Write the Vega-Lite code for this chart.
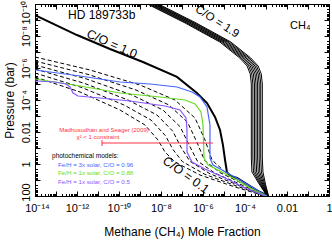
{
"$schema": "https://vega.github.io/schema/vega-lite/v6.json",
"width": 294, "height": 192,
"autosize": {"type": "none"},
"padding": {"left": 35, "top": 4, "right": 3, "bottom": 46},
"background": "white",
"config": {
 "view": {"stroke": "black", "strokeWidth": 1},
 "font": "Liberation Sans",
 "axis": {"labelFont": "Liberation Sans", "titleFont": "Liberation Sans", "labelColor": "black", "titleColor": "black", "tickColor": "black", "domainColor": "black", "tickWidth": 1, "grid": false, "titleFontWeight": "normal", "labelFlush": false, "labelOverlap": false}
},
"datasets": {
 "curves": [
  {"g":"C/O = 1.9","s":"b0","i":1,"x":2.24e-9,"p":1e-10},{"g":"C/O = 1.9","s":"b0","i":2,"x":1.41e-7,"p":1.54e-9},{"g":"C/O = 1.9","s":"b0","i":3,"x":6.31e-6,"p":2.37e-8},{"g":"C/O = 1.9","s":"b0","i":4,"x":5.62e-5,"p":2.37e-7},{"g":"C/O = 1.9","s":"b0","i":5,"x":1.26e-4,"p":7.5e-7},{"g":"C/O = 1.9","s":"b0","i":6,"x":1.78e-4,"p":2.37e-6},{"g":"C/O = 1.9","s":"b0","i":7,"x":2.0e-4,"p":1e-5},{"g":"C/O = 1.9","s":"b0","i":8,"x":2.0e-4,"p":0.422},{"g":"C/O = 1.9","s":"b0","i":9,"x":2.14e-4,"p":3.16},{"g":"C/O = 1.9","s":"b0","i":10,"x":4.73e-4,"p":17.8},{"g":"C/O = 1.9","s":"b0","i":11,"x":1.12e-3,"p":100},
  {"g":"C/O = 1.9","s":"b1","i":1,"x":2.66e-9,"p":1e-10},{"g":"C/O = 1.9","s":"b1","i":2,"x":1.68e-7,"p":1.54e-9},{"g":"C/O = 1.9","s":"b1","i":3,"x":7.5e-6,"p":2.37e-8},{"g":"C/O = 1.9","s":"b1","i":4,"x":6.68e-5,"p":2.37e-7},{"g":"C/O = 1.9","s":"b1","i":5,"x":1.5e-4,"p":7.5e-7},{"g":"C/O = 1.9","s":"b1","i":6,"x":2.11e-4,"p":2.37e-6},{"g":"C/O = 1.9","s":"b1","i":7,"x":2.37e-4,"p":1e-5},{"g":"C/O = 1.9","s":"b1","i":8,"x":2.37e-4,"p":0.422},{"g":"C/O = 1.9","s":"b1","i":9,"x":2.54e-4,"p":3.16},{"g":"C/O = 1.9","s":"b1","i":10,"x":5.22e-4,"p":17.8},{"g":"C/O = 1.9","s":"b1","i":11,"x":1.15e-3,"p":100},
  {"g":"C/O = 1.9","s":"b2","i":1,"x":3.16e-9,"p":1e-10},{"g":"C/O = 1.9","s":"b2","i":2,"x":2.0e-7,"p":1.54e-9},{"g":"C/O = 1.9","s":"b2","i":3,"x":8.91e-6,"p":2.37e-8},{"g":"C/O = 1.9","s":"b2","i":4,"x":7.94e-5,"p":2.37e-7},{"g":"C/O = 1.9","s":"b2","i":5,"x":1.78e-4,"p":7.5e-7},{"g":"C/O = 1.9","s":"b2","i":6,"x":2.51e-4,"p":2.37e-6},{"g":"C/O = 1.9","s":"b2","i":7,"x":2.82e-4,"p":1e-5},{"g":"C/O = 1.9","s":"b2","i":8,"x":2.82e-4,"p":0.422},{"g":"C/O = 1.9","s":"b2","i":9,"x":3.02e-4,"p":3.16},{"g":"C/O = 1.9","s":"b2","i":10,"x":5.75e-4,"p":17.8},{"g":"C/O = 1.9","s":"b2","i":11,"x":1.17e-3,"p":100},
  {"g":"C/O = 1.9","s":"b3","i":1,"x":3.76e-9,"p":1e-10},{"g":"C/O = 1.9","s":"b3","i":2,"x":2.37e-7,"p":1.54e-9},{"g":"C/O = 1.9","s":"b3","i":3,"x":1.06e-5,"p":2.37e-8},{"g":"C/O = 1.9","s":"b3","i":4,"x":9.44e-5,"p":2.37e-7},{"g":"C/O = 1.9","s":"b3","i":5,"x":2.11e-4,"p":7.5e-7},{"g":"C/O = 1.9","s":"b3","i":6,"x":2.99e-4,"p":2.37e-6},{"g":"C/O = 1.9","s":"b3","i":7,"x":3.35e-4,"p":1e-5},{"g":"C/O = 1.9","s":"b3","i":8,"x":3.35e-4,"p":0.422},{"g":"C/O = 1.9","s":"b3","i":9,"x":3.59e-4,"p":3.16},{"g":"C/O = 1.9","s":"b3","i":10,"x":6.35e-4,"p":17.8},{"g":"C/O = 1.9","s":"b3","i":11,"x":1.2e-3,"p":100},
  {"g":"C/O = 1.9","s":"b4","i":1,"x":4.47e-9,"p":1e-10},{"g":"C/O = 1.9","s":"b4","i":2,"x":2.82e-7,"p":1.54e-9},{"g":"C/O = 1.9","s":"b4","i":3,"x":1.26e-5,"p":2.37e-8},{"g":"C/O = 1.9","s":"b4","i":4,"x":1.12e-4,"p":2.37e-7},{"g":"C/O = 1.9","s":"b4","i":5,"x":2.51e-4,"p":7.5e-7},{"g":"C/O = 1.9","s":"b4","i":6,"x":3.55e-4,"p":2.37e-6},{"g":"C/O = 1.9","s":"b4","i":7,"x":3.98e-4,"p":1e-5},{"g":"C/O = 1.9","s":"b4","i":8,"x":3.98e-4,"p":0.422},{"g":"C/O = 1.9","s":"b4","i":9,"x":4.27e-4,"p":3.16},{"g":"C/O = 1.9","s":"b4","i":10,"x":7.0e-4,"p":17.8},{"g":"C/O = 1.9","s":"b4","i":11,"x":1.23e-3,"p":100},
  {"g":"C/O = 1.9","s":"b5","i":1,"x":5.31e-9,"p":1e-10},{"g":"C/O = 1.9","s":"b5","i":2,"x":3.35e-7,"p":1.54e-9},{"g":"C/O = 1.9","s":"b5","i":3,"x":1.5e-5,"p":2.37e-8},{"g":"C/O = 1.9","s":"b5","i":4,"x":1.33e-4,"p":2.37e-7},{"g":"C/O = 1.9","s":"b5","i":5,"x":2.99e-4,"p":7.5e-7},{"g":"C/O = 1.9","s":"b5","i":6,"x":4.22e-4,"p":2.37e-6},{"g":"C/O = 1.9","s":"b5","i":7,"x":4.73e-4,"p":1e-5},{"g":"C/O = 1.9","s":"b5","i":8,"x":4.73e-4,"p":0.422},{"g":"C/O = 1.9","s":"b5","i":9,"x":5.07e-4,"p":3.16},{"g":"C/O = 1.9","s":"b5","i":10,"x":7.72e-4,"p":17.8},{"g":"C/O = 1.9","s":"b5","i":11,"x":1.26e-3,"p":100},
  {"g":"C/O = 1.9","s":"b6","i":1,"x":6.31e-9,"p":1e-10},{"g":"C/O = 1.9","s":"b6","i":2,"x":3.98e-7,"p":1.54e-9},{"g":"C/O = 1.9","s":"b6","i":3,"x":1.78e-5,"p":2.37e-8},{"g":"C/O = 1.9","s":"b6","i":4,"x":1.58e-4,"p":2.37e-7},{"g":"C/O = 1.9","s":"b6","i":5,"x":3.55e-4,"p":7.5e-7},{"g":"C/O = 1.9","s":"b6","i":6,"x":5.01e-4,"p":2.37e-6},{"g":"C/O = 1.9","s":"b6","i":7,"x":5.62e-4,"p":1e-5},{"g":"C/O = 1.9","s":"b6","i":8,"x":5.62e-4,"p":0.422},{"g":"C/O = 1.9","s":"b6","i":9,"x":6.03e-4,"p":3.16},{"g":"C/O = 1.9","s":"b6","i":10,"x":8.51e-4,"p":17.8},{"g":"C/O = 1.9","s":"b6","i":11,"x":1.29e-3,"p":100},
  {"g":"C/O = 1.9","s":"b7","i":1,"x":7.5e-9,"p":1e-10},{"g":"C/O = 1.9","s":"b7","i":2,"x":4.73e-7,"p":1.54e-9},{"g":"C/O = 1.9","s":"b7","i":3,"x":2.11e-5,"p":2.37e-8},{"g":"C/O = 1.9","s":"b7","i":4,"x":1.88e-4,"p":2.37e-7},{"g":"C/O = 1.9","s":"b7","i":5,"x":4.22e-4,"p":7.5e-7},{"g":"C/O = 1.9","s":"b7","i":6,"x":5.96e-4,"p":2.37e-6},{"g":"C/O = 1.9","s":"b7","i":7,"x":6.68e-4,"p":1e-5},{"g":"C/O = 1.9","s":"b7","i":8,"x":6.68e-4,"p":0.422},{"g":"C/O = 1.9","s":"b7","i":9,"x":7.16e-4,"p":3.16},{"g":"C/O = 1.9","s":"b7","i":10,"x":9.39e-4,"p":17.8},{"g":"C/O = 1.9","s":"b7","i":11,"x":1.32e-3,"p":100},

  {"g":"C/O = 0.1","s":"d0","i":1,"x":1e-14,"p":2.05e-7},{"g":"C/O = 0.1","s":"d0","i":2,"x":4.16e-12,"p":1.33e-6},{"g":"C/O = 0.1","s":"d0","i":3,"x":1e-9,"p":1.155e-5},{"g":"C/O = 0.1","s":"d0","i":4,"x":4.64e-8,"p":1e-4},{"g":"C/O = 0.1","s":"d0","i":5,"x":4.16e-7,"p":1.33e-3},{"g":"C/O = 0.1","s":"d0","i":6,"x":1.245e-6,"p":3.16e-2},{"g":"C/O = 0.1","s":"d0","i":7,"x":2.69e-6,"p":0.562},{"g":"C/O = 0.1","s":"d0","i":8,"x":1.12e-5,"p":3.16},{"g":"C/O = 0.1","s":"d0","i":9,"x":1e-4,"p":15.4},{"g":"C/O = 0.1","s":"d0","i":10,"x":1e-3,"p":100},
  {"g":"C/O = 0.1","s":"d1","i":1,"x":1e-14,"p":3.65e-7},{"g":"C/O = 0.1","s":"d1","i":2,"x":3.34e-12,"p":2.51e-6},{"g":"C/O = 0.1","s":"d1","i":3,"x":6.46e-10,"p":2.37e-5},{"g":"C/O = 0.1","s":"d1","i":4,"x":2.4e-8,"p":2.05e-4},{"g":"C/O = 0.1","s":"d1","i":5,"x":1.85e-7,"p":2.51e-3},{"g":"C/O = 0.1","s":"d1","i":6,"x":5.18e-7,"p":4.47e-2},{"g":"C/O = 0.1","s":"d1","i":7,"x":1.19e-6,"p":0.596},{"g":"C/O = 0.1","s":"d1","i":8,"x":6.46e-6,"p":3.45},{"g":"C/O = 0.1","s":"d1","i":9,"x":8.03e-5,"p":17.3},{"g":"C/O = 0.1","s":"d1","i":10,"x":9.8e-4,"p":100},
  {"g":"C/O = 0.1","s":"d2","i":1,"x":1e-14,"p":6.49e-7},{"g":"C/O = 0.1","s":"d2","i":2,"x":2.69e-12,"p":4.73e-6},{"g":"C/O = 0.1","s":"d2","i":3,"x":4.16e-10,"p":4.87e-5},{"g":"C/O = 0.1","s":"d2","i":4,"x":1.245e-8,"p":4.22e-4},{"g":"C/O = 0.1","s":"d2","i":5,"x":8.2e-8,"p":4.73e-3},{"g":"C/O = 0.1","s":"d2","i":6,"x":2.15e-7,"p":6.31e-2},{"g":"C/O = 0.1","s":"d2","i":7,"x":5.3e-7,"p":0.631},{"g":"C/O = 0.1","s":"d2","i":8,"x":3.73e-6,"p":3.76},{"g":"C/O = 0.1","s":"d2","i":9,"x":6.46e-5,"p":19.4},{"g":"C/O = 0.1","s":"d2","i":10,"x":9.6e-4,"p":100},
  {"g":"C/O = 0.1","s":"d3","i":1,"x":1e-14,"p":1.155e-6},{"g":"C/O = 0.1","s":"d3","i":2,"x":2.15e-12,"p":8.91e-6},{"g":"C/O = 0.1","s":"d3","i":3,"x":2.69e-10,"p":1e-4},{"g":"C/O = 0.1","s":"d3","i":4,"x":6.46e-9,"p":8.66e-4},{"g":"C/O = 0.1","s":"d3","i":5,"x":3.65e-8,"p":8.91e-3},{"g":"C/O = 0.1","s":"d3","i":6,"x":8.95e-8,"p":8.91e-2},{"g":"C/O = 0.1","s":"d3","i":7,"x":2.35e-7,"p":0.668},{"g":"C/O = 0.1","s":"d3","i":8,"x":2.15e-6,"p":4.1},{"g":"C/O = 0.1","s":"d3","i":9,"x":5.18e-5,"p":21.8},{"g":"C/O = 0.1","s":"d3","i":10,"x":9.4e-4,"p":100},
  {"g":"C/O = 0.1","s":"d4","i":1,"x":1e-14,"p":2.05e-6},{"g":"C/O = 0.1","s":"d4","i":2,"x":1.73e-12,"p":1.68e-5},{"g":"C/O = 0.1","s":"d4","i":3,"x":1.73e-10,"p":2.05e-4},{"g":"C/O = 0.1","s":"d4","i":4,"x":3.34e-9,"p":1.78e-3},{"g":"C/O = 0.1","s":"d4","i":5,"x":1.62e-8,"p":1.68e-2},{"g":"C/O = 0.1","s":"d4","i":6,"x":3.73e-8,"p":0.126},{"g":"C/O = 0.1","s":"d4","i":7,"x":1.045e-7,"p":0.708},{"g":"C/O = 0.1","s":"d4","i":8,"x":1.245e-6,"p":4.47},{"g":"C/O = 0.1","s":"d4","i":9,"x":4.16e-5,"p":24.4},{"g":"C/O = 0.1","s":"d4","i":10,"x":9.2e-4,"p":100},
  {"g":"C/O = 0.1","s":"d5","i":1,"x":1e-14,"p":3.65e-6},{"g":"C/O = 0.1","s":"d5","i":2,"x":1.39e-12,"p":3.16e-5},{"g":"C/O = 0.1","s":"d5","i":3,"x":1.12e-10,"p":4.22e-4},{"g":"C/O = 0.1","s":"d5","i":4,"x":1.73e-9,"p":3.65e-3},{"g":"C/O = 0.1","s":"d5","i":5,"x":7.19e-9,"p":3.16e-2},{"g":"C/O = 0.1","s":"d5","i":6,"x":1.55e-8,"p":0.178},{"g":"C/O = 0.1","s":"d5","i":7,"x":4.64e-8,"p":0.75},{"g":"C/O = 0.1","s":"d5","i":8,"x":7.19e-7,"p":4.87},{"g":"C/O = 0.1","s":"d5","i":9,"x":3.34e-5,"p":27.4},{"g":"C/O = 0.1","s":"d5","i":10,"x":9.0e-4,"p":100},

  {"g":"C/O = 1.0","s":"t","i":1,"x":1e-14,"p":4.9e-10},{"g":"C/O = 1.0","s":"t","i":2,"x":1e-12,"p":8.7e-9},{"g":"C/O = 1.0","s":"t","i":3,"x":3.72e-11,"p":6.46e-8},{"g":"C/O = 1.0","s":"t","i":4,"x":1.38e-9,"p":4.2e-7},{"g":"C/O = 1.0","s":"t","i":5,"x":5.75e-8,"p":3.63e-6},{"g":"C/O = 1.0","s":"t","i":6,"x":5.13e-7,"p":3.63e-5},{"g":"C/O = 1.0","s":"t","i":7,"x":1.55e-6,"p":1.55e-4},{"g":"C/O = 1.0","s":"t","i":8,"x":3.72e-6,"p":1.15e-3},{"g":"C/O = 1.0","s":"t","i":9,"x":6.46e-6,"p":7.5e-3},{"g":"C/O = 1.0","s":"t","i":10,"x":8.9e-6,"p":0.0646},{"g":"C/O = 1.0","s":"t","i":11,"x":1.12e-5,"p":0.562},{"g":"C/O = 1.0","s":"t","i":12,"x":1.38e-5,"p":3.16},{"g":"C/O = 1.0","s":"t","i":13,"x":1.95e-5,"p":5.62},{"g":"C/O = 1.0","s":"t","i":14,"x":4.17e-5,"p":7.5},{"g":"C/O = 1.0","s":"t","i":15,"x":1.74e-4,"p":23.7},{"g":"C/O = 1.0","s":"t","i":16,"x":5.13e-4,"p":56.2},{"g":"C/O = 1.0","s":"t","i":17,"x":1.26e-3,"p":100},

  {"g":"Fe/H = 3x solar, C/O = 0.96","s":"m1","i":1,"x":1e-14,"p":1.33e-6},{"g":"Fe/H = 3x solar, C/O = 0.96","s":"m1","i":2,"x":1.39e-12,"p":3.16e-6},{"g":"Fe/H = 3x solar, C/O = 0.96","s":"m1","i":3,"x":1.12e-10,"p":7.5e-6},{"g":"Fe/H = 3x solar, C/O = 0.96","s":"m1","i":4,"x":2.99e-9,"p":1e-5},{"g":"Fe/H = 3x solar, C/O = 0.96","s":"m1","i":5,"x":5.78e-8,"p":1.54e-5},{"g":"Fe/H = 3x solar, C/O = 0.96","s":"m1","i":6,"x":2.99e-7,"p":3.16e-5},{"g":"Fe/H = 3x solar, C/O = 0.96","s":"m1","i":7,"x":7.19e-7,"p":6.49e-5},{"g":"Fe/H = 3x solar, C/O = 0.96","s":"m1","i":8,"x":1.55e-6,"p":2.74e-4},{"g":"Fe/H = 3x solar, C/O = 0.96","s":"m1","i":9,"x":2.15e-6,"p":3.65e-3},{"g":"Fe/H = 3x solar, C/O = 0.96","s":"m1","i":10,"x":2.15e-6,"p":0.422},{"g":"Fe/H = 3x solar, C/O = 0.96","s":"m1","i":11,"x":2.99e-6,"p":1.155},{"g":"Fe/H = 3x solar, C/O = 0.96","s":"m1","i":12,"x":8.03e-6,"p":2.37},{"g":"Fe/H = 3x solar, C/O = 0.96","s":"m1","i":13,"x":5.78e-5,"p":10},{"g":"Fe/H = 3x solar, C/O = 0.96","s":"m1","i":14,"x":2.99e-4,"p":36.5},{"g":"Fe/H = 3x solar, C/O = 0.96","s":"m1","i":15,"x":1.12e-3,"p":100},

  {"g":"Fe/H = 1x solar, C/O = 0.88","s":"m2","i":1,"x":1e-14,"p":4.87e-6},{"g":"Fe/H = 1x solar, C/O = 0.88","s":"m2","i":2,"x":1.39e-12,"p":1.33e-5},{"g":"Fe/H = 1x solar, C/O = 0.88","s":"m2","i":3,"x":1.12e-10,"p":3.65e-5},{"g":"Fe/H = 1x solar, C/O = 0.88","s":"m2","i":4,"x":8.95e-9,"p":6.49e-5},{"g":"Fe/H = 1x solar, C/O = 0.88","s":"m2","i":5,"x":1.39e-7,"p":1e-4},{"g":"Fe/H = 1x solar, C/O = 0.88","s":"m2","i":6,"x":4.16e-7,"p":1.78e-4},{"g":"Fe/H = 1x solar, C/O = 0.88","s":"m2","i":7,"x":8.03e-7,"p":5.62e-4},{"g":"Fe/H = 1x solar, C/O = 0.88","s":"m2","i":8,"x":1e-6,"p":3.65e-3},{"g":"Fe/H = 1x solar, C/O = 0.88","s":"m2","i":9,"x":1.12e-6,"p":0.422},{"g":"Fe/H = 1x solar, C/O = 0.88","s":"m2","i":10,"x":1.73e-6,"p":1.155},{"g":"Fe/H = 1x solar, C/O = 0.88","s":"m2","i":11,"x":5.18e-6,"p":2.37},{"g":"Fe/H = 1x solar, C/O = 0.88","s":"m2","i":12,"x":3.34e-5,"p":8.66},{"g":"Fe/H = 1x solar, C/O = 0.88","s":"m2","i":13,"x":1.73e-4,"p":31.6},{"g":"Fe/H = 1x solar, C/O = 0.88","s":"m2","i":14,"x":1e-3,"p":100},

  {"g":"Fe/H = 1x solar, C/O = 0.5","s":"m3","i":1,"x":1e-14,"p":6.49e-6},{"g":"Fe/H = 1x solar, C/O = 0.5","s":"m3","i":2,"x":8.95e-14,"p":7.5e-6},{"g":"Fe/H = 1x solar, C/O = 0.5","s":"m3","i":3,"x":2.99e-13,"p":1e-5},{"g":"Fe/H = 1x solar, C/O = 0.5","s":"m3","i":4,"x":4.64e-13,"p":1.54e-5},{"g":"Fe/H = 1x solar, C/O = 0.5","s":"m3","i":5,"x":6.46e-13,"p":3.65e-5},{"g":"Fe/H = 1x solar, C/O = 0.5","s":"m3","i":6,"x":1.12e-12,"p":5.62e-5},{"g":"Fe/H = 1x solar, C/O = 0.5","s":"m3","i":7,"x":1.245e-11,"p":7.5e-5},{"g":"Fe/H = 1x solar, C/O = 0.5","s":"m3","i":8,"x":3.34e-10,"p":1.155e-4},{"g":"Fe/H = 1x solar, C/O = 0.5","s":"m3","i":9,"x":1.55e-8,"p":2.37e-4},{"g":"Fe/H = 1x solar, C/O = 0.5","s":"m3","i":10,"x":8.03e-8,"p":4.22e-4},{"g":"Fe/H = 1x solar, C/O = 0.5","s":"m3","i":11,"x":1.55e-7,"p":1.33e-3},{"g":"Fe/H = 1x solar, C/O = 0.5","s":"m3","i":12,"x":1.73e-7,"p":7.5e-3},{"g":"Fe/H = 1x solar, C/O = 0.5","s":"m3","i":13,"x":1.73e-7,"p":0.178},{"g":"Fe/H = 1x solar, C/O = 0.5","s":"m3","i":14,"x":2.99e-7,"p":0.75},{"g":"Fe/H = 1x solar, C/O = 0.5","s":"m3","i":15,"x":1.245e-6,"p":2.05},{"g":"Fe/H = 1x solar, C/O = 0.5","s":"m3","i":16,"x":1.12e-5,"p":7.5},{"g":"Fe/H = 1x solar, C/O = 0.5","s":"m3","i":17,"x":1e-4,"p":31.6},{"g":"Fe/H = 1x solar, C/O = 0.5","s":"m3","i":18,"x":8.95e-4,"p":100},

  {"g":"constraint","s":"r","i":1,"x":1.55e-11,"p":0.0487},{"g":"constraint","s":"r","i":2,"x":2.99e-6,"p":0.0487},
  {"g":"constraint","s":"rt","i":1,"x":1.55e-11,"p":0.0316},{"g":"constraint","s":"rt","i":2,"x":1.55e-11,"p":0.075}
 ]
},
"resolve": {"axis": {"x": "independent", "y": "independent"}},
"encoding": {
 "x": {"field": "x", "type": "quantitative", "scale": {"type": "log", "domain": [1e-14, 1], "nice": false}, "axis": null},
 "y": {"field": "p", "type": "quantitative", "scale": {"type": "log", "domain": [1e-10, 100], "nice": false, "reverse": true}, "axis": null}
},
"layer": [
 {"data": {"name": "curves"}, "mark": {"type": "point", "opacity": 0, "size": 0},
  "encoding": {
   "x": {"field": "x", "type": "quantitative", "scale": {"type": "log", "domain": [1e-14, 1], "nice": false},
     "axis": {"orient": "bottom", "values": [1e-14,1e-13,1e-12,1e-11,1e-10,1e-9,1e-8,1e-7,1e-6,1e-5,1e-4,1e-3,1e-2,1e-1,1], "ticks": false, "domain": false, "labelFontSize": 11, "labelPadding": 6, "labelOffset": {"condition": {"test": "datum.value < 3e-14", "value": 2}, "value": 0}, "labelExpr": "datum.value < 3e-14 ? '10⁻¹⁴' : datum.value < 3e-13 ? '' : datum.value < 3e-12 ? '10⁻¹²' : datum.value < 3e-11 ? '' : datum.value < 3e-10 ? '10⁻¹⁰' : datum.value < 3e-9 ? '' : datum.value < 3e-8 ? '10⁻⁸' : datum.value < 3e-7 ? '' : datum.value < 3e-6 ? '10⁻⁶' : datum.value < 3e-5 ? '' : datum.value < 3e-4 ? '10⁻⁴' : datum.value < 3e-3 ? '' : datum.value < 3e-2 ? '0.01' : datum.value < 0.3 ? '' : '1'", "title": "Methane (CH₄) Mole Fraction", "titleFontSize": 12, "titlePadding": 13}},
   "y": {"field": "p", "type": "quantitative", "scale": {"type": "log", "domain": [1e-10, 100], "nice": false, "reverse": true},
     "axis": {"orient": "left", "values": [1e-10,1e-9,1e-8,1e-7,1e-6,1e-5,1e-4,1e-3,1e-2,1e-1,1,10,100], "ticks": false, "domain": false, "labelFontSize": 11, "labelPadding": 4, "labelAngle": -90, "labelAlign": "center", "labelBaseline": "bottom", "labelOffset": {"condition": [{"test": "datum.value < 3e-10", "value": 8}, {"test": "datum.value > 30", "value": -4}], "value": 0}, "labelExpr": "datum.value < 3e-10 ? '10⁻¹⁰' : datum.value < 3e-9 ? '' : datum.value < 3e-8 ? '10⁻⁸' : datum.value < 3e-7 ? '' : datum.value < 3e-6 ? '10⁻⁶' : datum.value < 3e-5 ? '' : datum.value < 3e-4 ? '10⁻⁴' : datum.value < 3e-3 ? '' : datum.value < 3e-2 ? '0.01' : datum.value < 0.3 ? '' : datum.value < 3 ? '1' : datum.value < 30 ? '' : '100'", "title": "Pressure (bar)", "titleFontSize": 12, "titlePadding": 4}}
  }},
 {"data": {"name": "curves"}, "mark": {"type": "point", "opacity": 0, "size": 0},
  "encoding": {
   "x": {"field": "x", "type": "quantitative", "scale": {"type": "log", "domain": [1e-14, 1], "nice": false},
     "axis": {"orient": "bottom", "values": [1e-14,1e-13,1e-12,1e-11,1e-10,1e-9,1e-8,1e-7,1e-6,1e-5,1e-4,1e-3,1e-2,1e-1,1], "labels": false, "domain": false, "tickSize": -5, "title": null}},
   "y": {"field": "p", "type": "quantitative", "scale": {"type": "log", "domain": [1e-10, 100], "nice": false, "reverse": true},
     "axis": {"orient": "left", "values": [1e-10,1e-9,1e-8,1e-7,1e-6,1e-5,1e-4,1e-3,1e-2,1e-1,1,10,100], "labels": false, "domain": false, "tickSize": -5, "title": null}}
  }},
 {"data": {"name": "curves"}, "mark": {"type": "point", "opacity": 0, "size": 0},
  "encoding": {
   "x": {"field": "x", "type": "quantitative", "scale": {"type": "log", "domain": [1e-14, 1], "nice": false},
     "axis": {"orient": "bottom", "tickCount": 200, "labels": false, "domain": false, "tickSize": -2.5, "title": null}},
   "y": {"field": "p", "type": "quantitative", "scale": {"type": "log", "domain": [1e-10, 100], "nice": false, "reverse": true},
     "axis": {"orient": "left", "tickCount": 200, "labels": false, "domain": false, "tickSize": -2.5, "title": null}}
  }},
 {"data": {"name": "curves"}, "mark": {"type": "point", "opacity": 0, "size": 0},
  "encoding": {
   "x": {"field": "x", "type": "quantitative", "scale": {"type": "log", "domain": [1e-14, 1], "nice": false},
     "axis": {"orient": "top", "values": [1e-14,1e-13,1e-12,1e-11,1e-10,1e-9,1e-8,1e-7,1e-6,1e-5,1e-4,1e-3,1e-2,1e-1,1], "labels": false, "domain": false, "tickSize": -5, "title": null}},
   "y": {"field": "p", "type": "quantitative", "scale": {"type": "log", "domain": [1e-10, 100], "nice": false, "reverse": true},
     "axis": {"orient": "right", "values": [1e-10,1e-9,1e-8,1e-7,1e-6,1e-5,1e-4,1e-3,1e-2,1e-1,1,10,100], "labels": false, "domain": false, "tickSize": -5, "title": null}}
  }},
 {"data": {"name": "curves"}, "mark": {"type": "point", "opacity": 0, "size": 0},
  "encoding": {
   "x": {"field": "x", "type": "quantitative", "scale": {"type": "log", "domain": [1e-14, 1], "nice": false},
     "axis": {"orient": "top", "tickCount": 200, "labels": false, "domain": false, "tickSize": -2.5, "title": null}},
   "y": {"field": "p", "type": "quantitative", "scale": {"type": "log", "domain": [1e-10, 100], "nice": false, "reverse": true},
     "axis": {"orient": "right", "tickCount": 200, "labels": false, "domain": false, "tickSize": -2.5, "title": null}}
  }},
 {"data": {"name": "curves"}, "transform": [{"filter": "datum.g == 'C/O = 0.1'"}],
  "mark": {"type": "line", "color": "black", "strokeWidth": 1, "strokeDash": [4, 2.5], "clip": true},
  "encoding": {"detail": {"field": "s"}, "order": {"field": "i", "type": "quantitative"}}},
 {"data": {"name": "curves"}, "transform": [{"filter": "datum.g == 'C/O = 1.9'"}],
  "mark": {"type": "line", "color": "black", "strokeWidth": 1, "clip": true},
  "encoding": {"detail": {"field": "s"}, "order": {"field": "i", "type": "quantitative"}}},
 {"data": {"name": "curves"}, "transform": [{"filter": "datum.g == 'C/O = 1.0'"}],
  "mark": {"type": "line", "color": "black", "strokeWidth": 2, "clip": true},
  "encoding": {"detail": {"field": "s"}, "order": {"field": "i", "type": "quantitative"}}},
 {"data": {"name": "curves"}, "transform": [{"filter": "indexof(datum.g, 'Fe/H') == 0"}],
  "mark": {"type": "line", "strokeWidth": 1.2, "clip": true},
  "encoding": {"color": {"field": "g", "type": "nominal", "scale": {"domain": ["Fe/H = 3x solar, C/O = 0.96", "Fe/H = 1x solar, C/O = 0.88", "Fe/H = 1x solar, C/O = 0.5"], "range": ["#4466ff", "#66dd22", "#8855ff"]}, "legend": null}, "detail": {"field": "s"}, "order": {"field": "i", "type": "quantitative"}}},
 {"data": {"name": "curves"}, "transform": [{"filter": "datum.g == 'constraint'"}],
  "mark": {"type": "line", "color": "#ff3344", "strokeWidth": 1, "clip": true},
  "encoding": {"detail": {"field": "s"}, "order": {"field": "i", "type": "quantitative"}}},
 {"data": {"values": [{"t": "HD 189733b", "x": 3.72e-13, "p": 4.9e-10}]},
  "mark": {"type": "text", "align": "left", "baseline": "middle", "fontSize": 12, "color": "black"},
  "encoding": {"text": {"field": "t"}}},
 {"data": {"values": [{"t": "CH₄", "x": 1.39e-2, "p": 2.37e-9}]},
  "mark": {"type": "text", "align": "left", "baseline": "middle", "fontSize": 11, "color": "black"},
  "encoding": {"text": {"field": "t"}}},
 {"data": {"values": [{"t": "C/O = 1.0", "x": 4.64e-11, "p": 3.16e-8}]},
  "mark": {"type": "text", "align": "center", "baseline": "middle", "fontSize": 12.5, "angle": 24, "color": "black"},
  "encoding": {"text": {"field": "t"}}},
 {"data": {"values": [{"t": "C/O = 1.9", "x": 4.64e-6, "p": 1.33e-9}]},
  "mark": {"type": "text", "align": "center", "baseline": "middle", "fontSize": 11.5, "angle": 33, "color": "black"},
  "encoding": {"text": {"field": "t"}}},
 {"data": {"values": [{"t": "C/O = 0.1", "x": 1.55e-7, "p": 4.87}]},
  "mark": {"type": "text", "align": "center", "baseline": "middle", "fontSize": 12.5, "angle": 36, "color": "black"},
  "encoding": {"text": {"field": "t"}}},
 {"data": {"values": [{"t": "Madhusudhan and Seager (2009)", "x": 1.93e-11, "p": 7.5e-3}, {"t": "χ² < 1 constraint", "x": 1e-11, "p": 2.05e-2}]},
  "mark": {"type": "text", "align": "center", "baseline": "middle", "fontSize": 6, "color": "#ff3344"},
  "encoding": {"text": {"field": "t"}}},
 {"data": {"values": [{"t": "photochemical models:", "x": 6.46e-14, "p": 0.316}]},
  "mark": {"type": "text", "align": "left", "baseline": "middle", "fontSize": 6.5, "color": "black"},
  "encoding": {"text": {"field": "t"}}},
 {"data": {"values": [{"g": "Fe/H = 3x solar, C/O = 0.96", "x": 1.245e-13, "p": 1.155}, {"g": "Fe/H = 1x solar, C/O = 0.88", "x": 1.245e-13, "p": 3.65}, {"g": "Fe/H = 1x solar, C/O = 0.5", "x": 1.245e-13, "p": 13.3}]},
  "mark": {"type": "text", "align": "left", "baseline": "middle", "fontSize": 6.2},
  "encoding": {"text": {"field": "g"}, "color": {"field": "g", "type": "nominal", "scale": {"domain": ["Fe/H = 3x solar, C/O = 0.96", "Fe/H = 1x solar, C/O = 0.88", "Fe/H = 1x solar, C/O = 0.5"], "range": ["#4466ff", "#66dd22", "#8855ff"]}, "legend": null}}}
]
}
